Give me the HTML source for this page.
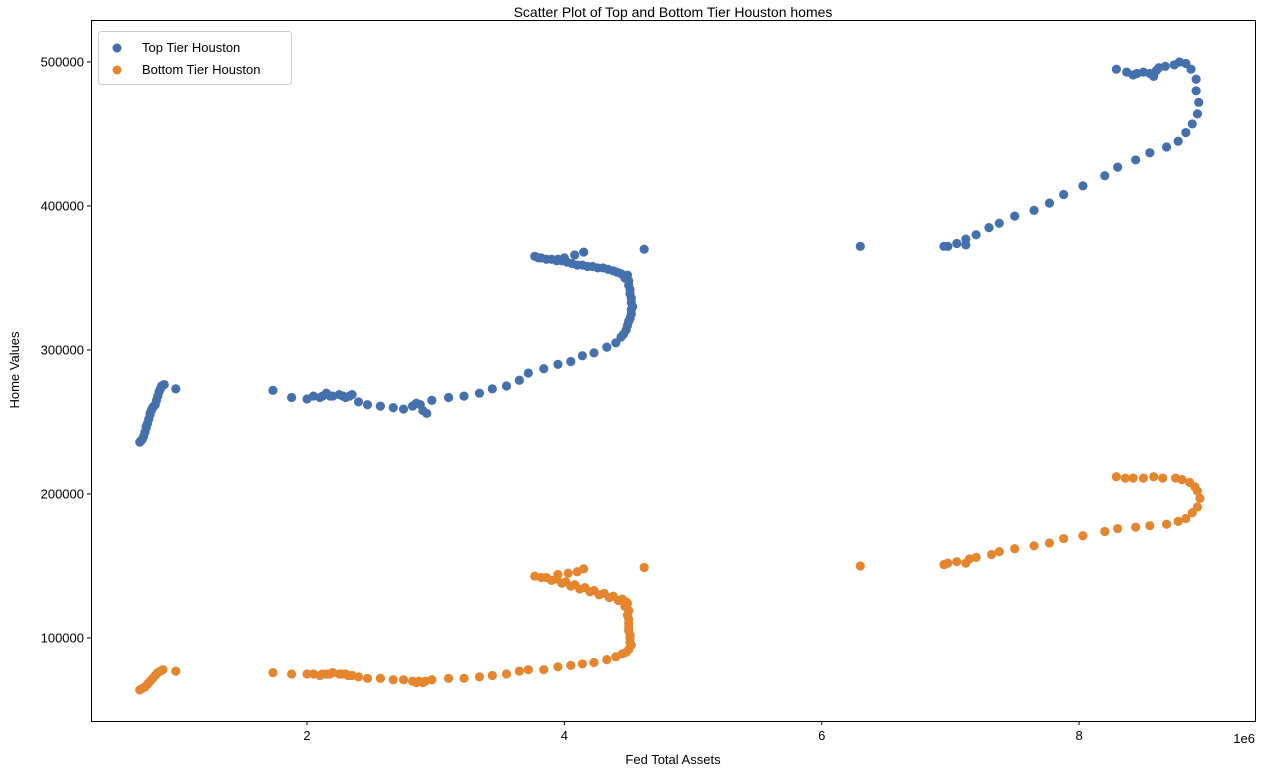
<!DOCTYPE html>
<html><head><meta charset="utf-8"><style>
body{margin:0;background:#fff;font-family:"Liberation Sans","DejaVu Sans",sans-serif}
svg text{font-family:"Liberation Sans","DejaVu Sans",sans-serif;fill:#000}
</style></head><body>
<svg id="chart" width="1262" height="775" xmlns="http://www.w3.org/2000/svg">
<text x="673" y="17" font-size="14" text-anchor="middle">Scatter Plot of Top and Bottom Tier Houston homes</text>
<g id="marks"></g>
<rect x="91.5" y="20.5" width="1164" height="701" fill="none" stroke="#000" stroke-width="1"/>
<g id="axes"></g>
<text x="673" y="764" font-size="13" text-anchor="middle">Fed Total Assets</text>
<text x="1255" y="743" font-size="13" text-anchor="end">1e6</text>
<text transform="translate(19,370) rotate(-90)" font-size="13" text-anchor="middle">Home Values</text>
<g>
<rect x="98.5" y="31.5" width="193" height="53" rx="3" fill="#fff" fill-opacity="0.8" stroke="#ccc"/>
<circle cx="117" cy="48" r="4.5" fill="#4470ad"/>
<text x="142" y="52" font-size="13">Top Tier Houston</text>
<circle cx="117" cy="70" r="4.5" fill="#e5862e"/>
<text x="142" y="74" font-size="13">Bottom Tier Houston</text>
</g>
</svg>
<script>
const xTicks=[2,4,6,8];
const yTicks=[100000,200000,300000,400000,500000];
const topX=[0.70,0.71,0.72,0.73,0.74,0.75,0.76,0.77,0.78,0.79,0.80,0.82,0.83,0.84,0.85,0.86,0.87,0.89,0.98,1.735,1.88,2.0,2.05,2.1,2.15,2.2,2.25,2.3,2.35,2.4,2.47,2.57,2.67,2.75,2.82,2.85,2.88,2.9,2.93,2.97,3.1,3.22,3.34,3.44,3.55,3.65,3.72,3.84,3.95,4.05,4.14,4.23,4.33,4.4,4.44,4.48,4.5,4.52,4.53,4.52,4.51,4.5,4.49,4.44,4.38,4.3,4.22,4.14,4.06,3.98,3.9,3.82,3.77,3.95,4.0,4.08,4.15,4.62,6.3,6.95,6.98,7.05,7.12,7.12,7.2,7.3,7.38,7.5,7.65,7.77,7.88,8.03,8.2,8.3,8.44,8.55,8.68,8.77,8.83,8.88,8.92,8.93,8.91,8.91,8.87,8.83,8.78,8.74,8.67,8.6,8.55,8.5,8.45,8.42,8.37,8.29,8.58,8.62,4.46,4.49,4.51,4.52,4.52,4.51,4.5,4.47,4.41,4.34,4.26,4.18,4.1,4.02,3.94,3.86,3.8,2.12,2.18,2.28,2.33,0.81,0.78,0.75];
const topY=[236,237,238,240,243,246,249,252,255,258,260,262,265,268,271,273,275,276,273,272,267,266,268,267,270,268,269,267,269,264,262,261,260,259,261,263,262,258,256,265,267,268,270,273,275,279,284,287,290,292,296,298,302,305,309,314,320,325,330,336,342,348,352,353,355,357,358,359,360,362,363,364,365,363,364,366,368,370,372,372,372,374,373,377,380,385,388,393,397,402,408,414,421,427,432,437,441,445,451,457,464,472,480,488,495,499,500,498,497,494,492,493,492,491,493,495,490,496,311,317,322,328,333,339,345,350,354,356,357,358,359,361,362,363,364,268,268,268,268,261,256,247];
const botX=[0.70,0.72,0.74,0.76,0.78,0.80,0.82,0.84,0.86,0.88,0.98,1.735,1.88,2.0,2.05,2.1,2.15,2.2,2.25,2.3,2.35,2.4,2.47,2.57,2.67,2.75,2.82,2.87,2.92,2.97,3.1,3.22,3.34,3.44,3.55,3.65,3.72,3.84,3.95,4.05,4.14,4.23,4.33,4.4,4.45,4.5,4.52,4.51,4.5,4.5,4.49,4.47,4.42,4.35,4.27,4.2,4.12,4.05,3.98,3.9,3.82,3.77,3.95,4.03,4.1,4.15,4.62,6.3,6.95,6.98,7.05,7.12,7.15,7.2,7.32,7.38,7.5,7.65,7.77,7.88,8.03,8.2,8.3,8.44,8.55,8.68,8.77,8.83,8.88,8.92,8.94,8.92,8.9,8.86,8.8,8.75,8.65,8.58,8.5,8.42,8.36,8.29,4.48,4.51,4.51,4.5,4.5,4.5,4.49,4.48,4.45,4.38,4.31,4.23,4.16,4.08,4.01,3.94,3.86,2.12,2.18,2.27,2.32,2.85,2.9];
const botY=[64,65,66,68,70,72,74,76,77,78,77,76,75,75,75,74,75,76,75,75,74,73,72,72,71,71,70,70,70,71,72,72,73,74,75,77,78,78,80,81,82,83,85,87,89,92,95,100,105,110,116,122,126,128,130,132,134,136,138,140,142,143,144,145,146,148,149,150,151,152,153,152,155,156,158,160,162,164,166,169,171,174,176,177,178,179,181,183,187,191,197,202,205,208,210,211,211,212,211,211,211,212,90,97,102,107,113,119,124,125,127,129,131,133,135,137,139,141,142,75,75,75,74,69,69];
const NS='http://www.w3.org/2000/svg';
const sx=v=>49.7+v*128.67;
const sy=v=>782-v*144/100000;
const marks=document.getElementById('marks'), axes=document.getElementById('axes');
function dots(xs,ys,color,name){
  for(let i=0;i<xs.length;i++){
    const c=document.createElementNS(NS,'circle');
    c.setAttribute('cx',sx(xs[i]));c.setAttribute('cy',sy(ys[i]*1000));
    c.setAttribute('r',4.6);c.setAttribute('fill',color);
    
    
    marks.appendChild(c);
  }
}
dots(topX,topY,'#4470ad','top-tier-point');
dots(botX,botY,'#e5862e','bottom-tier-point');
xTicks.forEach(t=>{
  const x=sx(t);
  const l=document.createElementNS(NS,'line');
  l.setAttribute('x1',x);l.setAttribute('x2',x);l.setAttribute('y1',721);l.setAttribute('y2',725);l.setAttribute('stroke','#000');
  
  
  axes.appendChild(l);
  const tx=document.createElementNS(NS,'text');
  tx.setAttribute('x',x);tx.setAttribute('y',740);tx.setAttribute('font-size','13');tx.setAttribute('text-anchor','middle');
  tx.textContent=t;
  
  
  axes.appendChild(tx);
});
yTicks.forEach(t=>{
  const y=sy(t);
  const l=document.createElementNS(NS,'line');
  l.setAttribute('x1',87);l.setAttribute('x2',91);l.setAttribute('y1',y);l.setAttribute('y2',y);l.setAttribute('stroke','#000');
  
  
  axes.appendChild(l);
  const tx=document.createElementNS(NS,'text');
  tx.setAttribute('x',84);tx.setAttribute('y',y+4.5);tx.setAttribute('font-size','13');tx.setAttribute('text-anchor','end');
  tx.textContent=t;
  
  
  axes.appendChild(tx);
});
</script>
</body></html>
